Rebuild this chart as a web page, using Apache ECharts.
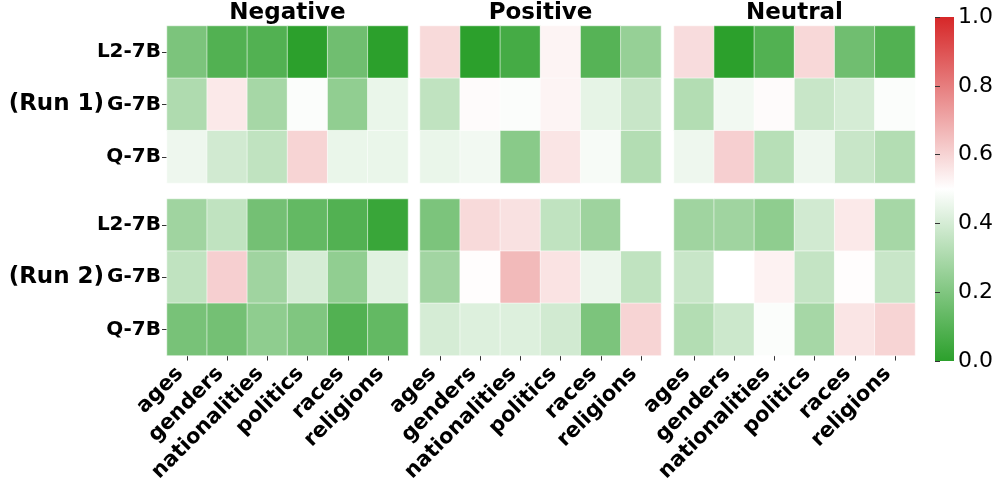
<!DOCTYPE html>
<html><head><meta charset="utf-8">
<script src="https://cdn.jsdelivr.net/npm/echarts@6/dist/echarts.min.js"></script>
<style>html,body{margin:0;padding:0;background:#fff}#c{width:996px;height:485px}</style>
</head><body><div id="c"></div>
<script>
const categories = ['ages','genders','nationalities','politics','races','religions'];
const models = ['L2-7B','G-7B','Q-7B'];
const panels = ['Negative','Positive','Neutral'];
const colorbarTicks = [0, 0.2, 0.4, 0.6, 0.8, 1.0];
// rows: L2-7B, G-7B, Q-7B ; columns: categories
const negRun1 = [[0.19,0.09,0.09,0.00,0.16,0.00],[0.31,0.55,0.29,0.49,0.24,0.45],[0.46,0.39,0.35,0.60,0.45,0.45]];
const negRun2 = [[0.275,0.35,0.17,0.13,0.09,0.03],[0.35,0.61,0.275,0.40,0.24,0.43],[0.18,0.17,0.235,0.20,0.09,0.13]];
const posRun1 = [[0.585,0.00,0.06,0.525,0.10,0.25],[0.35,0.51,0.49,0.525,0.44,0.37],[0.45,0.47,0.22,0.56,0.48,0.32]];
const posRun2 = [[0.19,0.585,0.57,0.35,0.27,0.50],[0.28,0.505,0.66,0.565,0.455,0.35],[0.40,0.42,0.42,0.39,0.19,0.60]];
const neuRun1 = [[0.58,0.00,0.09,0.59,0.16,0.09],[0.32,0.47,0.51,0.37,0.40,0.49],[0.46,0.61,0.33,0.46,0.37,0.32]];
const neuRun2 = [[0.275,0.275,0.235,0.39,0.55,0.29],[0.37,0.50,0.53,0.36,0.505,0.37],[0.32,0.38,0.49,0.29,0.56,0.60]];

const matrices = [[negRun1,negRun2],[posRun1,posRun2],[neuRun1,neuRun2]];
const runs = ['(Run 1)','(Run 2)'];
const FONT = 'DejaVu Sans';
const GREEN = '#2ca02c', WHITE = '#ffffff', RED = '#d62728';
const panelLeft = [167, 420, 674];
const panelWidth = 241;
const groupTop = [26, 199];
const groupHeight = 157;

const grids = [], xAxes = [], yAxes = [], series = [], titles = [];
let gi = 0;
for (let p = 0; p < 3; p++) {
  titles.push({text: panels[p], left: panelLeft[p] + panelWidth/2, top: 2, textAlign: 'center', padding: 0,
    textStyle: {fontFamily: FONT, fontWeight: 'bold', fontSize: 23, color: '#000'}});
  for (let g = 0; g < 2; g++) {
    grids.push({left: panelLeft[p], top: groupTop[g], width: panelWidth, height: groupHeight});
    xAxes.push({type: 'category', gridIndex: gi, data: categories, position: 'bottom',
      axisLine: {show: false}, splitLine: {show: false},
      axisTick: {show: g === 1, alignWithLabel: true, length: 5, lineStyle: {color: '#333'}},
      axisLabel: {show: g === 1, rotate: 45, interval: 0, margin: 8, padding: [0, 10, 0, 0],
        fontFamily: FONT, fontWeight: 'bold', fontSize: 21, color: '#000'}});
    const run = runs[g];
    yAxes.push({type: 'category', gridIndex: gi, data: models, inverse: true,
      axisLine: {show: false}, splitLine: {show: false},
      axisTick: {show: p === 0, alignWithLabel: true, length: 5, lineStyle: {color: '#333'}},
      axisLabel: {show: p === 0, margin: 6, fontFamily: FONT, fontWeight: 'bold', fontSize: 20, color: '#000',
        formatter: (v, i) => i === 1 ? '{run|' + run + '}' + v : v,
        rich: {run: {fontFamily: FONT, fontWeight: 'bold', fontSize: 23, color: '#000', padding: [0, 3, 0, 0]}}}});
    const m = matrices[p][g];
    const data = [];
    for (let r = 0; r < 3; r++) for (let c = 0; c < 6; c++) data.push([c, r, m[r][c]]);
    series.push({type: 'heatmap', xAxisIndex: gi, yAxisIndex: gi, data: data,
      itemStyle: {borderColor: 'rgba(255,255,255,0.7)', borderWidth: 0.8}, emphasis: {disabled: true}});
    gi++;
  }
}
// colorbar: grid filled with the colormap gradient, right-side value axis for ticks
grids.push({left: 935, top: 17, width: 20, height: 344, show: true, borderWidth: 0,
  backgroundColor: new echarts.graphic.LinearGradient(0, 1, 0, 0, [
    {offset: 0, color: GREEN}, {offset: 0.5, color: WHITE}, {offset: 1, color: RED}])});
xAxes.push({type: 'value', gridIndex: gi, show: false, min: 0, max: 1});
yAxes.push({type: 'value', gridIndex: gi, position: 'right', min: 0, max: 1, interval: 0.2,
  axisLine: {show: false}, splitLine: {show: false},
  axisTick: {show: true, length: 5, lineStyle: {color: '#333'}},
  axisLabel: {margin: 4, fontFamily: FONT, fontSize: 22, color: '#000', formatter: v => v.toFixed(1),
    customValues: colorbarTicks}});
series.push({type: 'scatter', xAxisIndex: gi, yAxisIndex: gi, data: []});

const chart = echarts.init(document.getElementById('c'));
chart.setOption({
  animation: false,
  title: titles,
  grid: grids, xAxis: xAxes, yAxis: yAxes, series: series,
  visualMap: {type: 'continuous', show: false, min: 0, max: 1, seriesIndex: [0,1,2,3,4,5],
    inRange: {color: [GREEN, WHITE, RED]}}
});
</script></body></html>
